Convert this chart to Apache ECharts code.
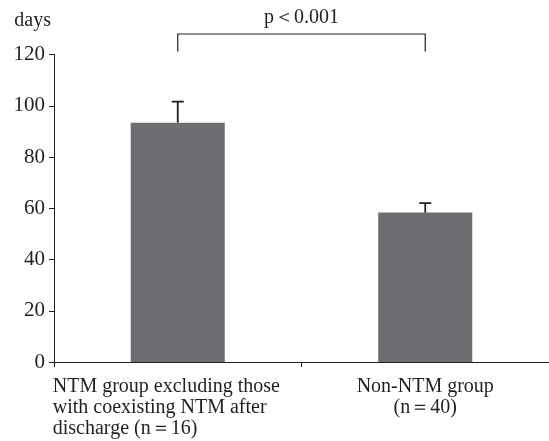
<!DOCTYPE html>
<html>
<head>
<meta charset="utf-8">
<script src="https://cdn.jsdelivr.net/npm/echarts@6/dist/echarts.min.js"></script>
<style>
  html, body { margin: 0; padding: 0; background: #fff; }
  #main { width: 549px; height: 441px; }
</style>
</head>
<body>
<div id="main"></div>
<script>
// data
const categories = [
  'NTM group excluding those\nwith coexisting NTM after\ndischarge (n\uff1d16)',
  'Non-NTM group\n(n\uff1d40)'
];
const meanDays = [93.4, 58.3];
const errorTop = [101.6, 62];
const yTicks = [0, 20, 40, 60, 80, 100, 120];
const pLabel = 'p\uff1c0.001';

const FONT = 'Liberation Serif';
const barColor = '#6d6e71';
const inkColor = '#231f20';

const chartDom = document.getElementById('main');
const myChart = echarts.init(chartDom);

const option = {
  animation: false,
  textStyle: { fontFamily: FONT },
  grid: { left: 54, right: 0, top: 54.5, bottom: 79 },
  xAxis: {
    type: 'category',
    data: categories,
    axisLine: { lineStyle: { color: inkColor, width: 1 } },
    axisTick: { show: true, length: 5, lineStyle: { color: inkColor } },
    axisLabel: {
      interval: 0,
      color: inkColor,
      fontFamily: FONT,
      fontSize: 20,
      lineHeight: 21,
      margin: 14,
      formatter: function (val, idx) {
        if (idx === 0) {
          return val.split('\n').map(function (l) { return '{a|' + l + '}'; }).join('\n');
        }
        return val;
      },
      rich: {
        a: { width: 250, align: 'left', fontFamily: FONT, fontSize: 20, lineHeight: 21, color: inkColor }
      }
    }
  },
  yAxis: {
    type: 'value',
    min: yTicks[0],
    max: yTicks[yTicks.length - 1],
    interval: 20,
    name: 'days',
    nameLocation: 'end',
    nameGap: 24,
    nameTextStyle: { color: inkColor, fontFamily: FONT, fontSize: 20, align: 'right', padding: [0, 3, 0, 0] },
    splitLine: { show: false },
    axisLine: { show: true, lineStyle: { color: inkColor, width: 1 } },
    axisTick: { show: true, length: 5, lineStyle: { color: inkColor } },
    axisLabel: { color: inkColor, fontFamily: FONT, fontSize: 21, margin: 9 }
  },
  series: [
    {
      type: 'bar',
      data: meanDays,
      barWidth: '38%',
      itemStyle: { color: barColor },
      z: 2
    },
    {
      // upward-only error bars with a cap
      type: 'custom',
      z: 3,
      data: errorTop.map(function (v, i) { return [i, meanDays[i], v]; }),
      renderItem: function (params, api) {
        const base = api.coord([api.value(0), api.value(1)]);
        const top = api.coord([api.value(0), api.value(2)]);
        const cap = 6;
        const style = { stroke: inkColor, lineWidth: 1.8 };
        return {
          type: 'group',
          children: [
            { type: 'line', shape: { x1: base[0], y1: base[1], x2: top[0], y2: top[1] }, style: style },
            { type: 'line', shape: { x1: top[0] - cap, y1: top[1], x2: top[0] + cap, y2: top[1] }, style: style }
          ]
        };
      }
    },
    {
      // significance bracket
      type: 'custom',
      z: 3,
      clip: false,
      data: [[0, 1, 121.2, 128]],
      renderItem: function (params, api) {
        const a = api.coord([api.value(0), api.value(2)]);
        const b = api.coord([api.value(1), api.value(2)]);
        const ta = api.coord([api.value(0), api.value(3)]);
        const tb = api.coord([api.value(1), api.value(3)]);
        const style = { stroke: inkColor, lineWidth: 1.2, fill: null };
        return {
          type: 'group',
          children: [
            { type: 'polyline', shape: { points: [a, ta, tb, b] }, style: style },
            {
              type: 'text',
              style: {
                text: pLabel,
                x: (ta[0] + tb[0]) / 2,
                y: ta[1] - 6,
                align: 'center',
                verticalAlign: 'bottom',
                fontFamily: FONT,
                fontSize: 20,
                fill: inkColor
              }
            }
          ]
        };
      }
    }
  ]
};

myChart.setOption(option);
</script>
</body>
</html>
